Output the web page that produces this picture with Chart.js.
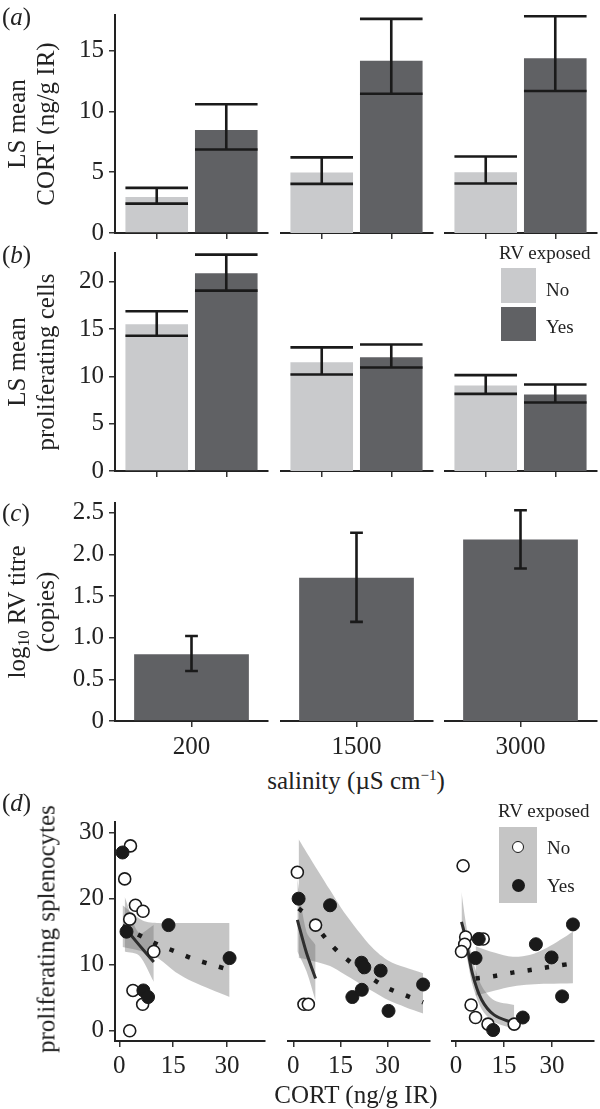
<!DOCTYPE html>
<html>
<head>
<meta charset="utf-8">
<script src="https://cdn.jsdelivr.net/npm/chart.js@4.4.1/dist/chart.umd.min.js"></script>
<style>
  body { margin: 0; background: #fff; overflow: hidden; }
  #fig { position: relative; width: 600px; height: 1109px; font-family: "Liberation Serif", "Times New Roman", "DejaVu Serif", serif; color: #222; }
  canvas { position: absolute; }
  .t { position: absolute; font-size: 25px; line-height: 1; white-space: nowrap; }
  .c { transform: translate(-50%, -50%); text-align: center; }
  .l { transform: translate(0, -50%); }
  .r { transform: translate(-50%, -50%) rotate(-90deg); text-align: center; line-height: 29px; }
  .leg { font-size: 19px; }
  .key { position: absolute; }
  sub { font-size: 16px; vertical-align: -4px; line-height: 0; }
  sup { font-size: 15px; vertical-align: 9px; line-height: 0; }
</style>
</head>
<body>
<div id="fig">
  <div class="t l" style="left:2px;top:16px">(<i>a</i>)</div>
  <div class="t l" style="left:2px;top:254px">(<i>b</i>)</div>
  <div class="t l" style="left:2px;top:512px">(<i>c</i>)</div>
  <div class="t l" style="left:2px;top:802px">(<i>d</i>)</div>

  <div class="t r" style="left:31px;top:124px">LS mean<br>CORT (ng/g IR)</div>
  <div class="t r" style="left:31px;top:362px">LS mean<br>proliferating cells</div>
  <div class="t r" style="left:31px;top:612px">log<sub>10</sub> RV titre<br>(copies)</div>
  <div class="t r" style="left:46px;top:929px">proliferating splenocytes</div>

  <div class="t c" style="left:356px;top:780px">salinity (µS cm<sup>−1</sup>)</div>
  <div class="t c" style="left:356px;top:1094px">CORT (ng/g IR)</div>
</div>

<script>
const salinity = ['200', '1500', '3000'];
const exposure = ['No', 'Yes'];

// (a) LS mean CORT (ng/g IR), per salinity
const cortNo = [2.97, 4.98, 5.00];
const cortNoLow = [2.42, 4.04, 4.07];
const cortNoHigh = [3.71, 6.22, 6.30];
const cortYes = [8.47, 14.18, 14.38];
const cortYesLow = [6.87, 11.46, 11.68];
const cortYesHigh = [10.59, 17.62, 17.84];

// (b) LS mean proliferating cells
const cellsNo = [15.49, 11.50, 9.03];
const cellsNoLow = [14.29, 10.20, 8.15];
const cellsNoHigh = [16.87, 13.06, 10.13];
const cellsYes = [20.89, 12.03, 8.08];
const cellsYesLow = [19.05, 10.94, 7.24];
const cellsYesHigh = [22.86, 13.37, 9.14];

// (c) log10 RV titre
const titre = [0.80, 1.72, 2.18];
const titreLow = [0.60, 1.19, 1.83];
const titreHigh = [1.02, 2.26, 2.53];

// (d) CORT vs proliferating splenocytes, [cort, cells]
const splenNo = [
  [[3.1, 28], [1.5, 23], [4.5, 19], [6.6, 18.1], [2.9, 16.9], [9.6, 12], [3.8, 6.1], [6.5, 4], [2.9, 0]],
  [[1.3, 24], [3.4, 4], [4.8, 4], [7.1, 16]],
  [[2.2, 25], [3.0, 14.2], [2.7, 13.1], [1.7, 12], [8.5, 13.9], [4.7, 3.9], [6.1, 2], [10, 1], [18.2, 1]]
];
const splenYes = [
  [[0.9, 27], [2.0, 15], [13.7, 16], [30.7, 11], [6.7, 6.1], [8.0, 5.1]],
  [[1.7, 20], [11.7, 19], [21.7, 10.3], [22.6, 9.6], [27.8, 9.1], [18.8, 5.1], [21.8, 6.2], [30.3, 3], [41.3, 7]],
  [[7.1, 13.9], [6.1, 11], [11.6, 0.1], [20.9, 2], [25, 13.1], [29.9, 11.1], [33.2, 5.2], [36.6, 16.1]]
];

// fitted curves and confidence bands: x, fit, lower, upper
const fitNoX = [[1.5, 5.5, 9.6], [1.3, 4.2, 7.1], [1.7, 3.0, 5.1, 8.0, 11.9, 18.2]];
const fitNo = [[15.6, 13.0, 10.4], [16.8, 11.8, 7.9], [16.5, 14.0, 8.7, 4.7, 2.4, 1.1]];
const fitNoLow = [[12.0, 11.4, 7.4], [12.0, 9.0, 4.5], [12.5, 11.8, 7.0, 3.3, 1.3, 0.3]];
const fitNoHigh = [[20.3, 14.8, 16.0], [23.0, 15.0, 13.0], [21.0, 16.5, 11.0, 6.8, 4.6, 3.9]];

const fitYesX = [[0.9, 6.5, 11, 15.6, 20.5, 25.2, 30.7], [1.7, 4.4, 11.7, 16.1, 25.1, 30.3, 35.5, 41.3], [6.1, 12.2, 17.7, 23.3, 28.6, 36.6]];
const fitYes = [[15.9, 14.2, 13.0, 12.0, 10.9, 10.1, 9.2], [18.5, 17.5, 13.2, 11.2, 7.9, 6.4, 5.4, 4.3], [7.9, 8.3, 8.8, 9.2, 9.6, 10.2]];
const fitYesLow = [[12.7, 12.0, 10.9, 8.9, 7.4, 6.3, 5.1], [11.0, 10.8, 9.8, 8.6, 6.0, 4.6, 3.6, 2.6], [5.3, 6.1, 6.7, 7.0, 7.1, 7.2]];
const fitYesHigh = [[19.0, 16.7, 16.3, 16.3, 16.3, 16.3, 16.3], [29.0, 26.9, 21.3, 18.0, 12.6, 10.6, 9.6, 8.7], [12.8, 11.8, 11.2, 11.5, 12.6, 15.0]];

// tick values
const cortTicks = [0, 5, 10, 15];
const cellsTicks = [0, 5, 10, 15, 20];
const titreTicks = [0, 0.5, 1.0, 1.5, 2.0, 2.5];
const splenTicks = [0, 10, 20, 30];
const cortAxisTicks = [0, 15, 30];

const LIGHT = '#c9cacc';
const DARK = '#606164';
const INK = '#1a1a1a';
const BAND = 'rgba(110,110,110,0.4)';

Chart.defaults.font.family = '"Liberation Serif", "Times New Roman", "DejaVu Serif", serif';
Chart.defaults.font.size = 25;
Chart.defaults.color = '#222';
Chart.defaults.animation = false;
Chart.defaults.plugins.legend.display = false;
Chart.defaults.plugins.tooltip.enabled = false;

const FACET_LEFT = [115, 280, 444];
const FACET_W = 153;
const PAD = 10;

const panels = {
  a: { top: 15, bottom: 233, below: 12 },
  b: { top: 253, bottom: 471, below: 12 },
  c: { top: 503, bottom: 721, below: 40 },
  d: { top: 822, bottom: 1041, below: 40 }
};

function addCanvas(panel, i) {
  const c = document.createElement('canvas');
  const left = i === 0 ? 0 : FACET_LEFT[i];
  const width = (i === 0 ? FACET_LEFT[0] : 0) + FACET_W + 4;
  const height = PAD + (panel.bottom - panel.top) + panel.below;
  c.width = width;
  c.height = height;
  c.style.left = left + 'px';
  c.style.top = (panel.top - PAD) + 'px';
  c.style.width = width + 'px';
  c.style.height = height + 'px';
  document.getElementById('fig').insertBefore(c, document.getElementById('fig').firstChild);
  return c;
}

const gridStyle = { display: true, drawOnChartArea: false, drawTicks: true, tickLength: 6, color: '#333', lineWidth: 1.5, offset: false };
const borderStyle = { display: true, color: '#222', width: 2 };

function yScale(i, min, max, values, fmt) {
  return {
    type: 'linear', display: i === 0, min: min, max: max,
    grid: gridStyle, border: borderStyle,
    ticks: { padding: 5, color: '#222', callback: fmt || (v => v) },
    afterBuildTicks: s => { s.ticks = values.map(v => ({ value: v })); },
    afterFit: s => { s.width = i === 0 ? FACET_LEFT[0] : 0; s.paddingTop = 0; s.paddingBottom = 0; }
  };
}

function xScale(panel, min, max, extra) {
  return Object.assign({
    type: 'linear', min: min, max: max, offset: false,
    grid: gridStyle, border: borderStyle,
    afterFit: s => { s.height = panel.below; s.paddingLeft = 0; s.paddingRight = 0; }
  }, extra);
}

const errorBars = {
  id: 'errorBars',
  afterDatasetsDraw(chart, args, opts) {
    const { ctx, scales: { x, y } } = chart;
    ctx.save();
    ctx.strokeStyle = INK;
    ctx.lineWidth = 2.6;
    chart.data.datasets.forEach((ds, di) => {
      chart.getDatasetMeta(di).data.forEach((bar, j) => {
        const xv = ds.data[j].x;
        const half = x.getPixelForValue(xv + opts.cap / 2) - x.getPixelForValue(xv);
        const top = y.getPixelForValue(ds.high[j]);
        const bot = y.getPixelForValue(ds.low[j]);
        ctx.beginPath();
        ctx.moveTo(bar.x - half, top); ctx.lineTo(bar.x + half, top);
        ctx.moveTo(bar.x, top); ctx.lineTo(bar.x, bot);
        ctx.moveTo(bar.x - half, bot); ctx.lineTo(bar.x + half, bot);
        ctx.stroke();
      });
    });
    ctx.restore();
  }
};

function groupedFacet(panel, i, no, noLow, noHigh, yes, yesLow, yesHigh, yMax, ticks) {
  new Chart(addCanvas(panel, i), {
    type: 'bar',
    data: {
      datasets: [{
        data: exposure.map((e, k) => ({ x: k + 1, y: [no, yes][k][i] })),
        low: [noLow[i], yesLow[i]],
        high: [noHigh[i], yesHigh[i]],
        backgroundColor: [LIGHT, DARK],
        barPercentage: 0.9,
        categoryPercentage: 1
      }]
    },
    options: {
      responsive: false,
      layout: { padding: { top: PAD, right: 4, left: 0, bottom: 0 } },
      scales: {
        x: xScale(panel, 0.4, 2.6, {
          ticks: { display: false },
          afterBuildTicks: s => { s.ticks = exposure.map((e, k) => ({ value: k + 1 })); }
        }),
        y: yScale(i, 0, yMax, ticks)
      },
      plugins: { errorBars: { cap: 0.9 } }
    },
    plugins: [errorBars]
  });
}

function titreFacet(i) {
  const panel = panels.c;
  new Chart(addCanvas(panel, i), {
    type: 'bar',
    data: {
      datasets: [{
        data: [{ x: 1, y: titre[i] }],
        low: [titreLow[i]],
        high: [titreHigh[i]],
        backgroundColor: DARK,
        barPercentage: 0.75,
        categoryPercentage: 1
      }]
    },
    options: {
      responsive: false,
      layout: { padding: { top: PAD, right: 4, left: 0, bottom: 0 } },
      scales: {
        x: xScale(panel, 0.4, 1.6, {
          ticks: { padding: 5, color: '#222', callback: () => salinity[i] },
          afterBuildTicks: s => { s.ticks = [{ value: 1 }]; }
        }),
        y: yScale(i, 0, 2.617, titreTicks, v => v === 0 ? '0' : v.toFixed(1))
      },
      plugins: { errorBars: { cap: 0.1 } }
    },
    plugins: [errorBars]
  });
}

const xRangeD = [[-1.2, 40.4], [-1.8, 43.3], [-1.4, 43.0]];

function toXY(xs, ys) { return xs.map((x, k) => ({ x: x, y: ys[k] })); }

function splenFacet(i) {
  const panel = panels.d;
  const pts = arr => arr.map(p => ({ x: p[0], y: p[1] }));
  const band = (xs, ys, fill) => ({ type: 'line', data: toXY(xs, ys), borderWidth: 0, pointRadius: 0, backgroundColor: BAND, fill: fill, tension: 0.3 });
  new Chart(addCanvas(panel, i), {
    type: 'scatter',
    data: {
      datasets: [
        { label: 'Yes', data: pts(splenYes[i]), pointRadius: 6.5, pointBackgroundColor: INK, pointBorderColor: INK, pointBorderWidth: 1, clip: false },
        { label: 'No', data: pts(splenNo[i]), pointRadius: 6, pointBackgroundColor: '#fff', pointBorderColor: INK, pointBorderWidth: 1.6, clip: false },
        { type: 'line', data: toXY(fitNoX[i], fitNo[i]), borderColor: '#2e2e2e', borderWidth: 3, pointRadius: 0, fill: false, tension: 0.3 },
        { type: 'line', data: toXY(fitYesX[i], fitYes[i]), borderColor: INK, borderWidth: 4.5, borderDash: [4.5, 13], pointRadius: 0, fill: false, tension: 0.3 },
        band(fitNoX[i], fitNoHigh[i], '+1'),
        band(fitNoX[i], fitNoLow[i], false),
        band(fitYesX[i], fitYesHigh[i], '+1'),
        band(fitYesX[i], fitYesLow[i], false)
      ]
    },
    options: {
      responsive: false,
      layout: { padding: { top: PAD, right: 4, left: 0, bottom: 0 } },
      scales: {
        x: xScale(panel, xRangeD[i][0], xRangeD[i][1], {
          ticks: { padding: 4, color: '#222', maxRotation: 0 },
          afterBuildTicks: s => { s.ticks = cortAxisTicks.map(v => ({ value: v })); }
        }),
        y: yScale(i, -1.56, 31.62, splenTicks)
      }
    }
  });
}

salinity.forEach((s, i) => {
  groupedFacet(panels.a, i, cortNo, cortNoLow, cortNoHigh, cortYes, cortYesLow, cortYesHigh, 17.94, cortTicks);
  groupedFacet(panels.b, i, cellsNo, cellsNoLow, cellsNoHigh, cellsYes, cellsYesLow, cellsYesHigh, 23.03, cellsTicks);
  titreFacet(i);
  splenFacet(i);
});

// legends
const fig = document.getElementById('fig');
function add(html) { fig.insertAdjacentHTML('beforeend', html); }
add('<div class="t l leg" style="left:499px;top:252px">RV exposed</div>');
add('<div class="key" style="left:501px;top:268px;width:35px;height:35px;background:' + LIGHT + '"></div>');
add('<div class="key" style="left:501px;top:307px;width:35px;height:34px;background:' + DARK + '"></div>');
add('<div class="t l leg" style="left:546px;top:289px">' + exposure[0] + '</div>');
add('<div class="t l leg" style="left:546px;top:326px">' + exposure[1] + '</div>');

add('<div class="t l leg" style="left:498px;top:810px">RV exposed</div>');
add('<div class="key" style="left:499px;top:827px;width:38px;height:76px;background:#c5c5c5"></div>');
add('<div class="key" style="left:512px;top:841px;width:10px;height:10px;border:1.6px solid ' + INK + ';border-radius:50%;background:#fff"></div>');
add('<div class="key" style="left:511.5px;top:878.5px;width:13px;height:13px;border-radius:50%;background:' + INK + '"></div>');
add('<div class="t l leg" style="left:547px;top:847px">' + exposure[0] + '</div>');
add('<div class="t l leg" style="left:547px;top:885px">' + exposure[1] + '</div>');
</script>
</body>
</html>
